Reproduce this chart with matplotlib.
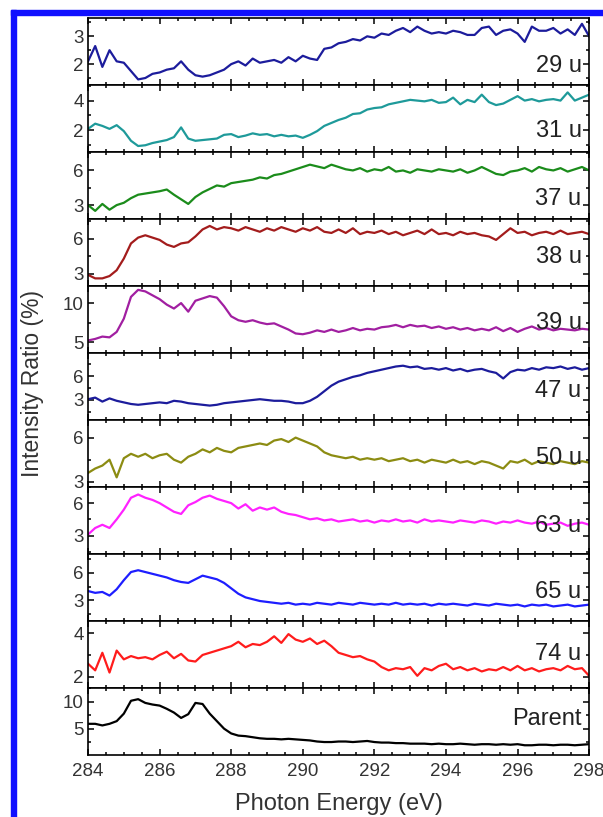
import matplotlib.pyplot as plt
import numpy as np
from matplotlib.ticker import MultipleLocator
from matplotlib.patches import Rectangle

plt.rcParams['font.family'] = ['Liberation Sans', 'DejaVu Sans']

# Eixo x comum (energia do fóton, passo de 0.2 eV)
energia = np.round(np.arange(284.0, 298.01, 0.2), 1)

nomes = ["29 u", "31 u", "37 u", "38 u", "39 u", "47 u",
         "50 u", "63 u", "65 u", "74 u", "Parent"]

cores = ['#1c1c9c', '#1e9a9a', '#1b8c1b', '#a31c1c', '#a11fa1', '#1c1c9c',
         '#8c8c12', '#ff22ff', '#1e1eff', '#ff1c1c', '#000000']

m29 = [2.1, 2.65, 1.9, 2.5, 2.1, 2.05, 1.75, 1.45, 1.5, 1.65, 1.7, 1.8, 1.85, 2.1, 1.8,
       1.6, 1.55, 1.6, 1.7, 1.8, 2.0, 2.1, 1.95, 2.2, 2.05, 2.1, 2.15, 2.05, 2.25, 2.1,
       2.3, 2.2, 2.15, 2.55, 2.6, 2.75, 2.8, 2.9, 2.85, 3.0, 2.95, 3.1, 3.05, 3.2, 3.3,
       3.15, 3.35, 3.2, 3.1, 3.15, 3.1, 3.2, 3.15, 3.05, 3.05, 3.3, 3.35, 3.05, 3.2, 3.25,
       3.1, 2.8, 3.35, 3.2, 3.2, 3.3, 3.1, 3.25, 3.05, 3.45, 3.0]
m31 = [2.1, 2.45, 2.3, 2.1, 2.35, 1.95, 1.3, 0.95, 1.0, 1.15, 1.25, 1.35, 1.55, 2.2, 1.45,
       1.3, 1.35, 1.4, 1.45, 1.7, 1.75, 1.55, 1.65, 1.8, 1.7, 1.75, 1.6, 1.7, 1.6, 1.65,
       1.5, 1.7, 1.95, 2.3, 2.5, 2.7, 2.85, 3.1, 3.15, 3.4, 3.5, 3.55, 3.75, 3.85, 3.95,
       4.05, 4.0, 3.95, 4.05, 3.85, 3.9, 4.2, 3.75, 4.05, 3.9, 4.4, 3.9, 3.7, 3.8, 4.05,
       4.3, 4.0, 4.1, 3.95, 4.05, 4.1, 4.0, 4.55, 4.0, 4.2, 4.4]
m37 = [3.0, 2.5, 3.1, 2.6, 3.0, 3.2, 3.6, 3.9, 4.0, 4.1, 4.2, 4.35, 3.9, 3.5, 3.1,
       3.7, 4.1, 4.4, 4.7, 4.6, 4.9, 5.0, 5.1, 5.2, 5.4, 5.3, 5.6, 5.7, 5.9, 6.1,
       6.3, 6.5, 6.35, 6.2, 6.5, 6.3, 6.1, 6.0, 6.2, 5.9, 6.1, 6.0, 6.3, 5.9, 6.0,
       5.8, 6.1, 6.0, 5.9, 6.1, 6.0, 5.9, 6.1, 5.8, 6.0, 6.3, 6.0, 5.7, 5.6, 5.9,
       6.0, 6.2, 5.9, 6.3, 6.1, 6.0, 6.2, 5.9, 6.1, 6.3, 6.0]
m38 = [2.9, 2.6, 2.6, 2.8, 3.3, 4.3, 5.6, 6.1, 6.3, 6.1, 5.9, 5.5, 5.3, 5.6, 5.7,
       6.2, 6.8, 7.1, 6.8, 7.0, 6.9, 6.7, 7.0, 6.8, 6.6, 6.9, 6.7, 7.0, 6.8, 6.6,
       6.9, 6.7, 7.0, 6.6, 6.5, 6.8, 6.5, 6.9, 6.4, 6.6, 6.5, 6.7, 6.4, 6.6, 6.3,
       6.5, 6.7, 6.4, 6.8, 6.4, 6.5, 6.3, 6.6, 6.4, 6.5, 6.3, 6.2, 5.9, 6.4, 6.9,
       6.5, 6.6, 6.3, 6.5, 6.6, 6.4, 6.7, 6.4, 6.5, 6.6, 6.4]
m39 = [5.2, 5.4, 5.7, 5.6, 6.3, 8.0, 10.8, 11.7, 11.5, 11.0, 10.5, 9.8, 9.3, 10.0, 8.9,
       10.3, 10.6, 10.9, 10.7, 9.6, 8.3, 7.8, 7.6, 7.8, 7.5, 7.3, 7.4, 7.0, 6.6, 6.1,
       6.0, 6.2, 6.5, 6.3, 6.6, 6.3, 6.5, 6.8, 6.5, 6.7, 6.6, 6.9, 7.0, 7.2, 6.9,
       7.2, 7.0, 7.1, 6.8, 7.0, 6.7, 6.9, 6.6, 6.8, 6.5, 6.7, 6.5, 6.9, 6.4, 6.8,
       6.3, 6.7, 7.0, 6.6, 6.8, 6.5, 6.7, 6.6, 6.5, 6.7, 6.6]
m47 = [3.1, 3.3, 2.8, 3.2, 2.9, 2.7, 2.5, 2.4, 2.5, 2.6, 2.7, 2.6, 2.9, 2.8, 2.6,
       2.5, 2.4, 2.3, 2.4, 2.6, 2.7, 2.8, 2.9, 3.0, 3.1, 3.0, 2.9, 2.9, 2.8, 2.6,
       2.6, 2.9, 3.4, 4.1, 4.8, 5.3, 5.6, 5.9, 6.1, 6.4, 6.6, 6.8, 7.0, 7.2, 7.3,
       7.1, 7.2, 6.9, 7.0, 6.8, 7.0, 6.7, 6.9, 6.6, 6.8, 6.9, 6.6, 6.4, 5.7, 6.5,
       6.8, 6.7, 7.0, 6.8, 7.1, 7.0, 7.2, 6.9, 7.1, 6.8, 7.0]
m50 = [3.6, 3.9, 4.1, 4.5, 3.3, 4.6, 4.9, 4.7, 4.9, 4.6, 4.8, 4.9, 4.5, 4.3, 4.7,
       4.9, 5.2, 5.0, 5.3, 5.1, 5.0, 5.3, 5.4, 5.5, 5.6, 5.5, 5.8, 5.9, 5.7, 6.0,
       5.8, 5.6, 5.4, 5.0, 4.8, 4.7, 4.6, 4.7, 4.5, 4.6, 4.5, 4.6, 4.4, 4.5, 4.6,
       4.4, 4.5, 4.3, 4.5, 4.4, 4.3, 4.5, 4.3, 4.4, 4.2, 4.4, 4.3, 4.1, 3.9, 4.4,
       4.3, 4.5, 4.2, 4.4, 4.3, 4.2, 4.4, 4.3, 4.2, 4.4, 4.3]
m63 = [3.1, 3.7, 4.0, 3.7, 4.5, 5.4, 6.5, 6.8, 6.5, 6.3, 6.0, 5.6, 5.2, 5.0, 5.8,
       6.1, 6.5, 6.7, 6.4, 6.2, 6.0, 5.5, 5.9, 5.3, 5.6, 5.4, 5.6, 5.2, 5.0, 4.9,
       4.7, 4.5, 4.6, 4.4, 4.5, 4.3, 4.4, 4.5, 4.3, 4.4, 4.2, 4.4, 4.3, 4.5, 4.3,
       4.4, 4.2, 4.5, 4.3, 4.4, 4.3, 4.2, 4.4, 4.3, 4.2, 4.4, 4.3, 4.1, 4.3, 4.2,
       4.4, 4.2, 4.1, 4.3, 4.0, 4.1, 4.2, 3.9, 4.1, 4.2, 4.0]
m65 = [4.0, 3.8, 3.9, 3.5, 4.2, 5.2, 6.1, 6.3, 6.1, 5.9, 5.7, 5.5, 5.2, 5.0, 4.9,
       5.3, 5.7, 5.5, 5.3, 4.9, 4.3, 3.7, 3.3, 3.1, 2.9, 2.8, 2.7, 2.6, 2.7, 2.5,
       2.6, 2.5, 2.7, 2.6, 2.5, 2.7, 2.6, 2.5, 2.7, 2.6, 2.5, 2.6, 2.5, 2.7, 2.5,
       2.6, 2.5, 2.6, 2.4, 2.6, 2.5, 2.6, 2.5, 2.4, 2.6, 2.5, 2.4, 2.6, 2.5, 2.4,
       2.5, 2.3, 2.5, 2.4, 2.5, 2.3, 2.4, 2.5, 2.3, 2.4, 2.5]
m74 = [2.6, 2.3, 3.1, 2.2, 3.2, 2.8, 2.95, 2.85, 2.9, 2.8, 3.0, 3.15, 2.85, 3.05, 2.75,
       2.7, 3.0, 3.1, 3.2, 3.3, 3.4, 3.6, 3.35, 3.5, 3.45, 3.6, 3.85, 3.55, 3.95, 3.7,
       3.6, 3.75, 3.5, 3.65, 3.4, 3.1, 3.0, 2.9, 2.95, 2.8, 2.7, 2.45, 2.3, 2.4, 2.35,
       2.45, 2.05, 2.4, 2.3, 2.5, 2.6, 2.35, 2.45, 2.3, 2.4, 2.25, 2.35, 2.3, 2.45, 2.3,
       2.5, 2.3, 2.4, 2.25, 2.35, 2.4, 2.3, 2.5, 2.35, 2.4, 2.05]
parent = [5.9, 5.9, 5.6, 5.9, 6.4, 7.8, 10.2, 10.5, 9.8, 9.5, 9.3, 8.7, 8.0, 7.0, 7.7,
          9.8, 9.6, 7.8, 6.4, 5.0, 4.1, 3.7, 3.6, 3.4, 3.2, 3.1, 3.1, 3.0, 3.1, 3.0,
          2.9, 2.8, 2.6, 2.5, 2.5, 2.6, 2.6, 2.5, 2.6, 2.7, 2.5, 2.4, 2.4, 2.3, 2.3,
          2.2, 2.2, 2.2, 2.1, 2.2, 2.1, 2.1, 2.2, 2.1, 2.0, 2.1, 2.1, 2.0, 2.1, 2.0,
          2.1, 1.9, 1.9, 2.0, 2.0, 1.9, 2.0, 2.0, 1.9, 2.0, 2.1]

series = [m29, m31, m37, m38, m39, m47, m50, m63, m65, m74, parent]

# Limites y e espaçamento dos ticks de cada painel
limites = [(1.25, 3.66), (0.55, 5.05), (1.8, 7.6), (1.95, 7.7), (3.6, 12.2), (0.5, 8.9),
           (2.65, 7.2), (1.3, 7.5), (0.7, 8.1), (1.5, 4.55), (0.1, 12.6)]
passos = [1, 2, 3, 3, 5, 3, 3, 3, 3, 2, 5]
pos_rotulo = [0.28, 0.31, 0.30, 0.43, 0.45, 0.43, 0.43, 0.42, 0.43, 0.50, 0.54]

fig, axes = plt.subplots(len(series), 1, sharex=True, figsize=(6.03, 8.17), dpi=100)
fig.subplots_adjust(left=0.146, right=0.977, top=0.978, bottom=0.076, hspace=0)

for i, ax in enumerate(axes):
    ax.plot(energia, series[i], color=cores[i], lw=1.6)
    ax.set_xlim(284, 298)
    ax.set_ylim(*limites[i])
    ax.yaxis.set_major_locator(MultipleLocator(passos[i]))
    ax.yaxis.set_minor_locator(MultipleLocator(passos[i] / 2))
    ax.xaxis.set_major_locator(MultipleLocator(2))
    ax.xaxis.set_minor_locator(MultipleLocator(0.5))
    ax.tick_params(which='both', direction='in', top=True, right=True,
                   labelsize=13.5, labelcolor='#333333', width=1.1)
    ax.tick_params(which='major', length=4.5)
    ax.tick_params(which='minor', length=2.5)
    ax.tick_params(axis='y', pad=3)
    ax.tick_params(axis='x', pad=6)
    for sp in ax.spines.values():
        sp.set_linewidth(1.2)
    ax.text(0.985, pos_rotulo[i], nomes[i], transform=ax.transAxes,
            ha='right', va='center', fontsize=17, color='#222222')

axes[-1].set_xlabel("Photon Energy (eV)", fontsize=17, color='#333333', labelpad=9)
fig.text(0.054, 0.53, "Intensity Ratio (%)", rotation=90, fontsize=16.5,
         color='#333333', ha='center', va='center')

# Moldura azul (esquerda e topo)
fig.patches.append(Rectangle((11 / 603, 0), 5 / 603, 1 - 10 / 817,
                             transform=fig.transFigure, color='#1010ff', zorder=5))
fig.patches.append(Rectangle((11 / 603, 1 - 15 / 817), 1, 5 / 817,
                             transform=fig.transFigure, color='#1010ff', zorder=5))

fig.savefig("out.png", dpi=100)
